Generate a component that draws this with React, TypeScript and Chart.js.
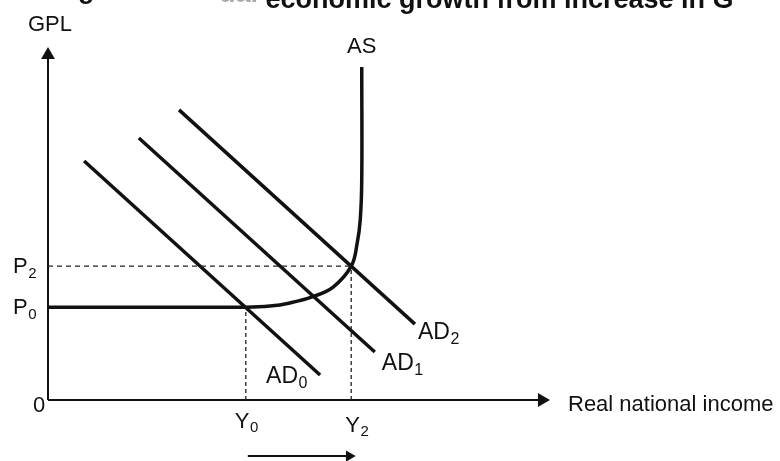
import React, { useEffect, useRef } from "react";
import { Chart, registerables } from "chart.js";

Chart.register(...registerables);

// ---- Data (economic units: x = real national income, y = general price level) ----
const P0 = 26.3;
const P2 = 37.9;
const Y0 = 39.4;
const Y2 = 60.4;

const asX = [0, 39.4, 44.2, 48.2, 52.6, 56.8, 60.4, 61.6, 62.2, 62.5, 62.5];
const asY = [26.3, 26.3, 26.6, 27.5, 29.2, 32.0, 37.9, 44.5, 51.0, 62.3, 94.3];

const ad0X = [7.2, 54.2];
const ad0Y = [67.7, 7.1];
const ad1X = [18.1, 65.1];
const ad1Y = [74.2, 13.6];
const ad2X = [26.1, 73.1];
const ad2Y = [82.2, 21.5];

const yAxisX = [0, 0];
const yAxisY = [0, 97.7];
const xAxisX = [0, 98.4];
const xAxisY = [0, 0];

const shiftX = [39.8, 60.0];
const shiftY = [-15.9, -15.9];

const TITLE_A = "Figure 3: Act";
const TITLE_B = "ual";
const TITLE_C = " economic growth from increase in G";

const FONT = '"Liberation Sans", Arial, Helvetica, sans-serif';

const pts = (xs: number[], ys: number[]) => xs.map((x, i) => ({ x, y: ys[i] }));

function drawSub(ctx: CanvasRenderingContext2D, main: string, sub: string, x: number, baseline: number, size: number) {
  ctx.font = `${size}px ${FONT}`;
  ctx.fillText(main, x, baseline);
  const w = ctx.measureText(main).width;
  ctx.font = `${Math.round(size * 0.7)}px ${FONT}`;
  ctx.fillText(sub, x + w + 0.5, baseline + size * 0.2);
}

const labelsPlugin = {
  id: "econLabels",
  afterDatasetsDraw(chart: any) {
    const ctx: CanvasRenderingContext2D = chart.ctx;
    const xs = chart.scales.x;
    const ys = chart.scales.y;
    const px = (v: number) => xs.getPixelForValue(v);
    const py = (v: number) => ys.getPixelForValue(v);
    ctx.save();
    ctx.fillStyle = "#111";
    ctx.textBaseline = "alphabetic";
    ctx.textAlign = "left";
    const S = 22;

    // Title (top, partially cut off as in the scanned reference)
    ctx.font = `bold 27px ${FONT}`;
    const wA = ctx.measureText(TITLE_A).width;
    const wB = ctx.measureText(TITLE_B).width;
    const startC = 258;
    const startA = startC - wA - wB;
    ctx.fillText(TITLE_A, startA, -2);
    ctx.fillStyle = "#aaa";
    ctx.fillText(TITLE_B, startA + wA, 2);
    ctx.fillStyle = "#111";
    ctx.fillText(TITLE_C, startC, 8);

    // Axis labels
    ctx.font = `${S}px ${FONT}`;
    ctx.fillText("GPL", px(0) - 20, py(100) - 16);
    ctx.fillText("0", px(0) - 15, py(0) + 12);
    ctx.fillText("Real national income", px(100) + 18, py(0) + 11);
    ctx.textAlign = "center";
    ctx.fillText("AS", px(asX[asX.length - 1]) + 0, py(asY[asY.length - 1]) - 14);
    ctx.textAlign = "left";

    // Price labels
    drawSub(ctx, "P", "2", px(0) - 35, py(P2) + 7, S);
    drawSub(ctx, "P", "0", px(0) - 35, py(P0) + 7, S);

    // Output labels
    drawSub(ctx, "Y", "0", px(Y0) - 11, py(0) + 28, S);
    drawSub(ctx, "Y", "2", px(Y2) - 6, py(0) + 32, S);

    // AD labels
    drawSub(ctx, "AD", "0", px(ad0X[1]) - 54, py(ad0Y[1]) + 8, 23);
    drawSub(ctx, "AD", "1", px(ad1X[1]) + 7, py(ad1Y[1]) + 18, 23);
    drawSub(ctx, "AD", "2", px(ad2X[1]) + 3, py(ad2Y[1]) + 15, 23);
    ctx.restore();
  },
};

export default function App() {
  const ref = useRef<HTMLCanvasElement | null>(null);

  useEffect(() => {
    if (!ref.current) return;
    const solid = (data: any, width: number) => ({
      data,
      showLine: true,
      borderColor: "#111",
      borderWidth: width,
      pointRadius: 0,
      fill: false,
    });
    const arrow = (data: any, width: number, r: number, rot: number) => ({
      data,
      showLine: true,
      borderColor: "#111",
      borderWidth: width,
      pointRadius: [0, r],
      pointStyle: "triangle",
      pointRotation: rot,
      pointBackgroundColor: "#111",
      pointBorderColor: "#111",
      pointBorderWidth: 0,
      fill: false,
      clip: false,
    });
    const dashed = (data: any, dash: number[]) => ({
      data,
      showLine: true,
      borderColor: "#222",
      borderWidth: 1.3,
      borderDash: dash,
      pointRadius: 0,
      fill: false,
    });

    const chart = new Chart(ref.current, {
      type: "scatter",
      data: {
        datasets: [
          dashed(pts([0, Y2], [P2, P2]), [5, 4]),
          dashed(pts([Y0, Y0], [0, P0]), [4, 3]),
          dashed(pts([Y2, Y2], [0, P2]), [4, 3]),
          arrow(pts(yAxisX, yAxisY), 2, 8, 0),
          arrow(pts(xAxisX, xAxisY), 2, 8, 90),
          arrow(pts(shiftX, shiftY), 2, 6.5, 90),
          solid(pts(ad0X, ad0Y), 3.5),
          solid(pts(ad1X, ad1Y), 3.5),
          solid(pts(ad2X, ad2Y), 3.5),
          { ...solid(pts(asX, asY), 3.5), tension: 0.4 },
        ] as any,
      },
      options: {
        responsive: false,
        animation: false,
        events: [],
        layout: { autoPadding: false, padding: { left: 48, right: 230, top: 47, bottom: 1 } },
        scales: {
          x: { type: "linear", display: false, min: 0, max: 100 },
          y: { type: "linear", display: false, min: -17, max: 100 },
        },
        plugins: {
          legend: { display: false },
          tooltip: { enabled: false },
          title: { display: false },
        },
      },
      plugins: [labelsPlugin],
    });
    return () => chart.destroy();
  }, []);

  return (
    <div style={{ position: "fixed", left: 0, top: 0, width: 780, height: 461, background: "#fff" }}>
      <canvas ref={ref} width={780} height={461} style={{ display: "block" }} />
    </div>
  );
}
